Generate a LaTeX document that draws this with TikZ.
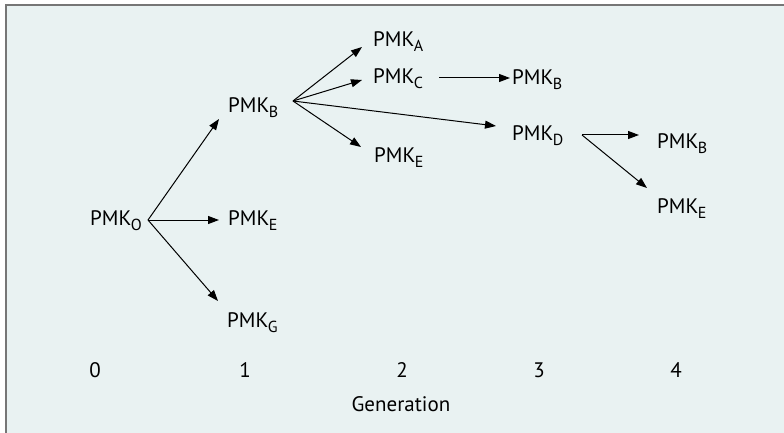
\documentclass[tikz,border=0pt]{standalone}
\usepackage{fontspec}
\setmainfont{PT Sans}
\usetikzlibrary{arrows.meta}
\definecolor{panel}{RGB}{233,242,242}
\definecolor{framegray}{RGB}{118,118,118}
% PMK label with a lowered, smaller subscript letter
\newcommand{\pmk}[1]{PMK\kern-0.5pt\raisebox{-5pt}{\fontsize{16}{16}\selectfont #1}}

\begin{document}
\begin{tikzpicture}[x=1pt,y=-1pt,
  lbl/.style={anchor=base west, inner sep=0pt, font=\fontsize{21}{24}\selectfont},
  axislbl/.style={anchor=base, inner sep=0pt, font=\fontsize{21}{24}\selectfont},
  link/.style={line width=1pt, -{Triangle[length=11pt,width=8pt]}}]
\useasboundingbox (0,0) rectangle (784,433);
% panel with rule on top and left
\fill[panel] (5.5,5.5) rectangle (784,433);
\draw[framegray, line width=2pt] (5.5,433) -- (5.5,5.5) -- (784,5.5);

% generation 0
\node[lbl] (o)  at (90,225)  {\pmk{O}};
% generation 1
\node[lbl] (b1) at (228,113) {\pmk{B}};
\node[lbl] (e1) at (228,225) {\pmk{E}};
\node[lbl] (g1) at (227,327) {\pmk{G}};
% generation 2
\node[lbl] (a2) at (373,47)  {\pmk{A}};
\node[lbl] (c2) at (373,84)  {\pmk{C}};
\node[lbl] (e2) at (374,162) {\pmk{E}};
% generation 3
\node[lbl] (b3) at (512,85)  {\pmk{B}};
\node[lbl] (d3) at (512,141) {\pmk{D}};
% generation 4
\node[lbl] (b4) at (657,149) {\pmk{B}};
\node[lbl] (e4) at (657,213) {\pmk{E}};

% connector ends
\coordinate (oOut) at (148,220);
\coordinate (b1In) at (219,119);
\coordinate (e1In) at (219,220);
\coordinate (g1In) at (218,301);
\coordinate (b1Out) at (293,101);
\coordinate (a2In) at (362,47);
\coordinate (c2In) at (362,80);
\coordinate (e2In) at (361,147);
\coordinate (d3In) at (496,126);
\coordinate (c2Out) at (439,78);
\coordinate (b3In) at (510,78);
\coordinate (d3Out) at (582,135);
\coordinate (b4In) at (639,135);
\coordinate (e4In) at (647,188);

\draw[link] (oOut) -- (b1In);
\draw[link] (oOut) -- (e1In);
\draw[link] (oOut) -- (g1In);
\draw[link] (b1Out) -- (a2In);
\draw[link] (b1Out) -- (c2In);
\draw[link] (b1Out) -- (e2In);
\draw[link] (b1Out) -- (d3In);
\draw[link] (c2Out) -- (b3In);
\draw[link] (d3Out) -- (b4In);
\draw[link] (d3Out) -- (e4In);

% generation axis
\node[axislbl] (n0) at (95,377)  {0};
\node[axislbl] (n1) at (245,377) {1};
\node[axislbl] (n2) at (402,377) {2};
\node[axislbl] (n3) at (539,377) {3};
\node[axislbl] (n4) at (676,377) {4};
\node[axislbl] (gen) at (401,411) {Generation};
\end{tikzpicture}
\end{document}
